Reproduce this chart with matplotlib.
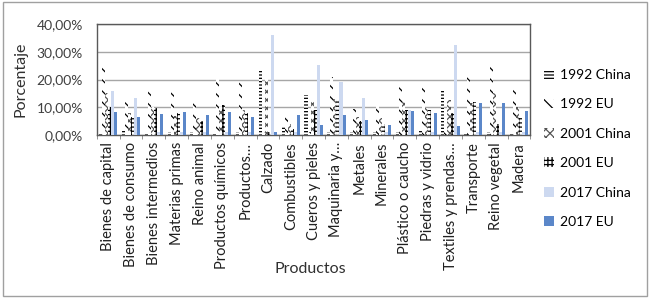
import matplotlib
matplotlib.use('Agg')
import matplotlib.pyplot as plt
import numpy as np
from matplotlib.patches import Rectangle

# categories (x tick labels)
productos = ['Bienes de capital', 'Bienes de consumo', 'Bienes intermedios',
             'Materias primas', 'Reino animal', 'Productos químicos',
             'Productos…', 'Calzado', 'Combustibles', 'Cueros y pieles',
             'Maquinaria y…', 'Metales', 'Minerales', 'Plástico o caucho',
             'Piedras y vidrio', 'Textiles y prendas…', 'Transporte',
             'Reino vegetal', 'Madera']

# values in percent
china_1992 = [0.5, 1.5, 0.5, 1.0, 1.0, 0.5, 1.0, 23.5, 3.0, 14.5, 1.0, 1.0, 1.0, 1.0, 2.0, 16.0, 0.5, 1.0, 0.5]
eu_1992 = [24.7, 12.3, 16.6, 16.3, 11.4, 21.0, 19.3, 1.0, 6.5, 1.0, 21.0, 9.4, 10.3, 17.5, 17.4, 3.0, 22.5, 26.0, 17.8]
china_2001 = [15.0, 8.0, 10.0, 7.0, 6.0, 10.0, 9.0, 20.5, 4.0, 13.0, 13.0, 6.6, 6.2, 12.4, 9.6, 12.6, 11.5, 15.2, 10.0]
eu_2001 = [10.0, 6.6, 9.6, 7.8, 5.0, 10.9, 8.0, 1.0, 2.0, 9.0, 12.6, 5.0, 4.0, 9.0, 9.0, 8.0, 12.0, 4.0, 6.0]
china_2017 = [15.7, 13.5, 1.0, 1.0, 1.0, 1.0, 1.0, 36.2, 1.0, 25.4, 19.2, 13.2, 1.0, 9.0, 1.0, 32.6, 1.0, 1.0, 1.0]
eu_2017 = [8.4, 6.6, 7.6, 8.2, 7.2, 8.4, 6.6, 1.0, 7.2, 3.5, 7.2, 5.4, 3.6, 8.8, 7.8, 3.2, 11.7, 11.4, 8.8]

series = [
    ('1992 China', china_1992, dict(facecolor='white', edgecolor='black', hatch='-----')),
    ('1992 EU', eu_1992, dict(facecolor='white', edgecolor='black', hatch='\\\\\\')),
    ('2001 China', china_2001, dict(facecolor='white', edgecolor='#555555', hatch='xxxx')),
    ('2001 EU', eu_2001, dict(facecolor='white', edgecolor='black', hatch='++++')),
    ('2017 China', china_2017, dict(facecolor='#cdd9f0', edgecolor='#cdd9f0')),
    ('2017 EU', eu_2017, dict(facecolor='#5b87c9', edgecolor='#5b87c9')),
]

plt.rcParams['font.family'] = ['Lato', 'DejaVu Sans']
plt.rcParams['hatch.linewidth'] = 0.9

fig = plt.figure(figsize=(6.5, 2.98), dpi=100)
ax = fig.add_axes([0.149, 0.547, 0.667, 0.372])

x = np.arange(len(productos))
w = 1 / 7.5
for k, (name, vals, style) in enumerate(series):
    ax.bar(x + (k - 2.5) * w, np.array(vals) / 100, w, label=name,
           linewidth=0, zorder=3, **style)

ax.set_xlim(-0.5, len(productos) - 0.5)
ax.set_ylim(0, 0.4)
ax.set_yticks([0, 0.1, 0.2, 0.3, 0.4])
ax.set_yticklabels(['0,00%', '10,00%', '20,00%', '30,00%', '40,00%'], fontsize=10, color='#404040')
ax.yaxis.grid(True, color='#a6a6a6', linewidth=1, zorder=0)
ax.tick_params(axis='y', length=0, pad=10)
ax.set_xticks(x)
ax.set_xticklabels(productos, rotation=90, fontsize=10.5, color='#202020')
ax.set_xticks(np.arange(len(productos) + 1) - 0.5, minor=True)
ax.tick_params(axis='x', which='major', length=0, pad=5)
ax.tick_params(axis='x', which='minor', length=3, color='#808080')
for s in ax.spines.values():
    s.set_color('#595959')
    s.set_linewidth(1)

ax.set_ylabel('Porcentaje', fontsize=11.5, color='#303030')
ax.yaxis.set_label_coords(-0.16, 0.5)
fig.text(0.478, 0.085, 'Productos', fontsize=11.5, color='#303030', ha='center')

ax.legend(loc='upper left', bbox_to_anchor=(1.0, 0.72), frameon=False,
          fontsize=10, handlelength=0.7, handleheight=0.7, handletextpad=0.4,
          labelspacing=1.25, borderaxespad=0.6)

fig.patches.append(Rectangle((0.004, 0.006), 0.992, 0.988, transform=fig.transFigure,
                             fill=False, edgecolor='#a0a0a0', linewidth=1))

fig.savefig('out.png', dpi=100)
